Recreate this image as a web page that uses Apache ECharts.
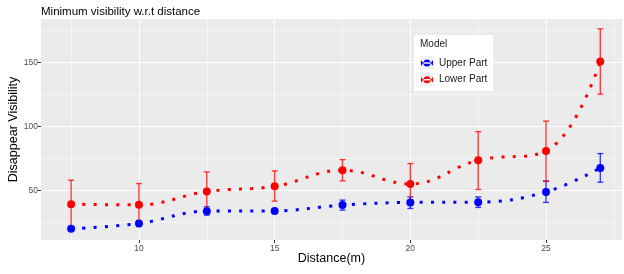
<!DOCTYPE html>
<html>
<head>
<meta charset="utf-8">
<script src="https://cdn.jsdelivr.net/npm/echarts@6/dist/echarts.min.js"></script>
<style>
  html, body { margin: 0; padding: 0; background: #fff; }
  #chart { width: 624px; height: 274px; }
</style>
</head>
<body>
<div id="chart"></div>
<script>
// distance (m)
const distance = [7.5, 10, 12.5, 15, 17.5, 20, 22.5, 25, 27]
// Upper Part
const upperMean = [20.1, 24.3, 33.9, 34.1, 38.6, 40.7, 40.9, 48.9, 67.6]
const upperLow = [19.0, 22.0, 30.8, 33.0, 34.7, 36.0, 36.8, 40.7, 56.5]
const upperHigh = [21.2, 26.5, 37.3, 35.3, 42.5, 45.0, 45.0, 57.5, 78.8]
// Lower Part
const lowerMean = [39.3, 38.8, 49.2, 53.3, 65.8, 55.1, 73.6, 80.8, 150.5]
const lowerLow = [20.1, 22.5, 34.7, 41.7, 57.5, 40.0, 50.8, 57.0, 125.1]
const lowerHigh = [58.0, 55.4, 64.5, 65.3, 74.1, 71.0, 95.9, 104.1, 176.0]
// ticks
const xTicks = [10, 15, 20, 25]
const xMinor = [7.5, 12.5, 17.5, 22.5, 27.5]
const yTicks = [50, 100, 150]
const yMinor = [25, 75, 125, 175]

const chart = echarts.init(document.getElementById('chart'))

const pairs = (ys) => distance.map((x, i) => [x, ys[i]])
const bars = (lo, hi) => distance.map((x, i) => [x, lo[i], hi[i]])

function errorBar (color) {
  return function (params, api) {
    const x = api.value(0)
    const top = api.coord([x, api.value(2)])
    const bot = api.coord([x, api.value(1)])
    const w = 3
    const style = { stroke: color, lineWidth: 1.4, fill: null }
    return {
      type: 'group',
      children: [
        { type: 'line', shape: { x1: top[0], y1: top[1], x2: bot[0], y2: bot[1] }, style },
        { type: 'line', shape: { x1: top[0] - w, y1: top[1], x2: top[0] + w, y2: top[1] }, style },
        { type: 'line', shape: { x1: bot[0] - w, y1: bot[1], x2: bot[0] + w, y2: bot[1] }, style }
      ]
    }
  }
}

const gridLine = (v, key, width) => ({ [key]: v, lineStyle: { color: '#fff', width: width, type: 'solid' } })
const gridLines = [
  ...xTicks.map(v => gridLine(v, 'xAxis', 1.1)),
  ...xMinor.map(v => gridLine(v, 'xAxis', 0.5)),
  ...yTicks.map(v => gridLine(v, 'yAxis', 1.1)),
  ...yMinor.map(v => gridLine(v, 'yAxis', 0.5))
]

const keyIcon = 'path://M0,0L0.01,0ZM14,14L13.99,14ZM1,6.3H13V7.7H1ZM1,4.8H2.2V9.2H1ZM11.8,4.8H13V9.2H11.8ZM3.5,7A3.5,3.5,0,1,0,10.5,7A3.5,3.5,0,1,0,3.5,7Z'

const option = {
  animation: false,
  title: {
    text: 'Minimum visibility w.r.t distance',
    left: 36,
    top: 1,
    textStyle: { fontSize: 11.5, fontWeight: 'normal', color: '#000', fontFamily: 'Liberation Sans' }
  },
  grid: {
    left: 41,
    right: 2,
    top: 19,
    bottom: 34,
    outerBoundsMode: 'none',
    containLabel: false,
    show: true,
    backgroundColor: '#EBEBEB',
    borderWidth: 0
  },
  xAxis: {
    type: 'value',
    min: 6.39,
    max: 27.8,
    name: 'Distance(m)',
    nameLocation: 'middle',
    nameGap: 12,
    nameMoveOverlap: false,
    nameTextStyle: { fontSize: 12.5, color: '#000', fontFamily: 'Liberation Sans' },
    axisLine: { show: false },
    splitLine: { show: false },
    axisTick: { show: true, customValues: xTicks, length: 3, lineStyle: { color: '#333' } },
    axisLabel: { customValues: xTicks, fontSize: 8.5, color: '#4D4D4D', margin: 4, fontFamily: 'Liberation Sans' }
  },
  yAxis: {
    type: 'value',
    min: 11.4,
    max: 183.7,
    name: 'Disappear Visibility',
    nameLocation: 'middle',
    nameGap: 21,
    nameMoveOverlap: false,
    nameTextStyle: { fontSize: 12.5, color: '#000', fontFamily: 'Liberation Sans' },
    axisLine: { show: false },
    splitLine: { show: false },
    axisTick: { show: true, customValues: yTicks, length: 3, lineStyle: { color: '#333' } },
    axisLabel: { customValues: yTicks, fontSize: 8.5, color: '#4D4D4D', margin: 3, fontFamily: 'Liberation Sans' }
  },
  legend: {
    data: ['Upper Part', 'Lower Part'],
    orient: 'vertical',
    left: 420,
    top: 56,
    padding: 0,
    z: 100,
    itemWidth: 14,
    itemHeight: 14,
    itemGap: 2.7,
    icon: keyIcon,
    textStyle: { fontSize: 10, color: '#1A1A1A', fontFamily: 'Liberation Sans' }
  },
  graphic: [
    { type: 'rect', left: 414, top: 35, shape: { width: 79, height: 56 }, style: { fill: '#fff' }, z: 50 },
    { type: 'rect', left: 420, top: 56, shape: { width: 14, height: 14 }, style: { fill: '#F2F2F2' }, z: 51 },
    { type: 'rect', left: 420, top: 72.7, shape: { width: 14, height: 14 }, style: { fill: '#F2F2F2' }, z: 51 },
    { type: 'text', left: 420, top: 39, style: { text: 'Model', fontSize: 10, fill: '#1A1A1A', fontFamily: 'Liberation Sans' }, z: 51 }
  ],
  series: [
    {
      name: 'grid',
      type: 'line',
      data: pairs(upperMean),
      symbol: 'none',
      lineStyle: { opacity: 0 },
      silent: true,
      z: 1,
      markLine: { silent: true, z: 1, symbol: ['none', 'none'], label: { show: false }, data: gridLines }
    },
    {
      name: 'upperErr',
      type: 'custom',
      data: bars(upperLow, upperHigh),
      renderItem: errorBar('rgba(0,0,255,0.75)'),
      z: 3
    },
    {
      name: 'lowerErr',
      type: 'custom',
      data: bars(lowerLow, lowerHigh),
      renderItem: errorBar('rgba(255,0,0,0.75)'),
      z: 3
    },
    {
      name: 'Upper Part',
      type: 'line',
      data: pairs(upperMean),
      smooth: 0.4,
      symbol: 'circle',
      symbolSize: 8,
      itemStyle: { color: '#0000FF' },
      lineStyle: { color: '#0000FF', width: 3, type: [3, 8.3] },
      z: 4
    },
    {
      name: 'Lower Part',
      type: 'line',
      data: pairs(lowerMean),
      smooth: 0.4,
      symbol: 'circle',
      symbolSize: 8,
      itemStyle: { color: '#FF0000' },
      lineStyle: { color: '#FF0000', width: 3, type: [3, 8.3] },
      z: 4
    }
  ]
}

chart.setOption(option)
</script>
</body>
</html>
